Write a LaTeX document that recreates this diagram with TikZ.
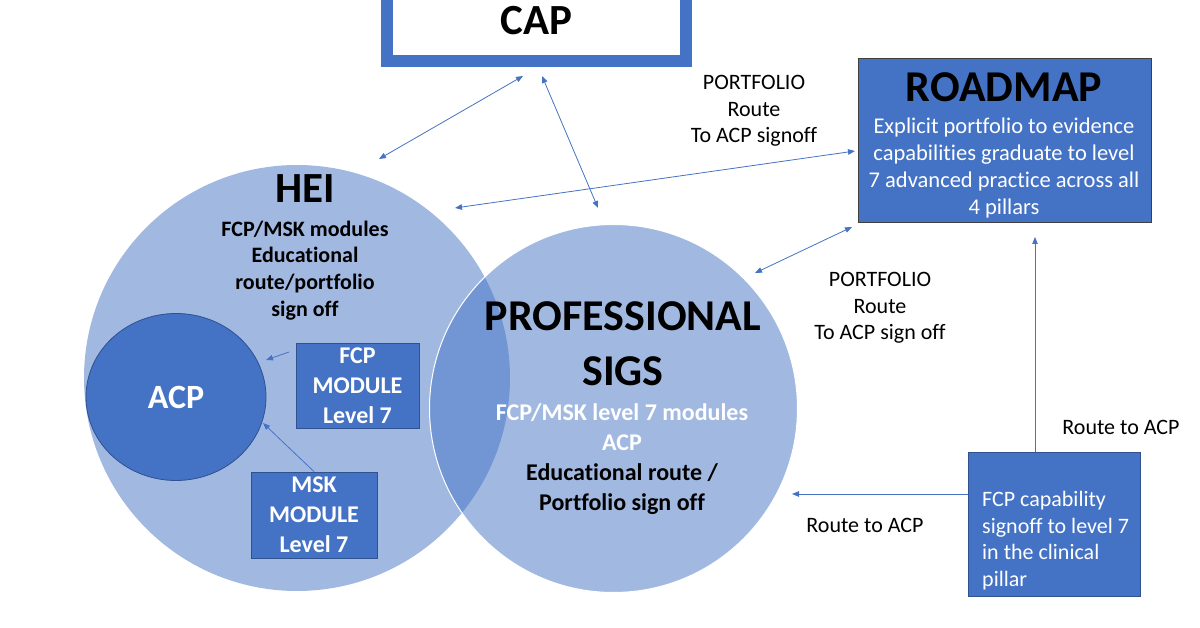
\documentclass[tikz,border=0pt]{standalone}
\usepackage{fontspec}
\setmainfont{Carlito}[Ligatures=NoCommon]
\usetikzlibrary{shapes.geometric,arrows.meta,positioning}
\definecolor{ppblue}{HTML}{4472C4}
\definecolor{ppedge}{HTML}{2F528F}

\begin{document}
\begin{tikzpicture}[%
    ,x=1pt,y=-1pt
    ,>={Triangle[length=7pt,width=5.5pt]}
    ,block/.style = {%
        ,draw=ppedge
        ,fill=ppblue
        ,line width=0.8pt
        ,inner sep=0pt
        ,align=center
        }
    ,ring/.style = {%
        ,circle
        ,fill=ppblue
        ,fill opacity=0.5
        ,inner sep=0pt
        }
    ,head/.style = {%
        ,anchor=base
        ,inner sep=0pt
        ,align=center
        ,font=\fontsize{43}{55}\selectfont\bfseries
        }
    ,lbl/.style = {%
        ,anchor=base
        ,inner sep=0pt
        ,align=center
        ,font=\fontsize{22}{26.5}\selectfont
        }
    ,bold/.style = {font=\fontsize{22}{27}\selectfont\bfseries}
    ,link/.style = {ppblue, line width=0.8pt}
    ]
\useasboundingbox (0,0) rectangle (1200,628);

% circles
\node (hei) [ring, minimum size=426pt] at (297,378) {};
\node (sigs) [ring, draw=white, line width=1pt, minimum size=368pt] at (613.5,408.5) {};
\node (acp) [ellipse, fill=ppblue, draw=ppedge, line width=0.8pt
    , minimum width=180pt, minimum height=167pt
    , text=white, font=\fontsize{34}{40}\selectfont\bfseries] at (176,397) {ACP};

% boxes
\node (cap) [draw=ppblue, line width=12pt, fill=white
    , minimum width=299pt, minimum height=81pt
    , font=\fontsize{43}{50}\selectfont\bfseries] at (536.5,20.5) {CAP};
\node (roadmap) [block, draw=black!75, minimum width=293pt, minimum height=164pt] at (1004.5,140) {};
\node (fcpm) [block, minimum width=123pt, minimum height=85pt
    , text=white, font=\fontsize{24}{30}\selectfont\bfseries] at (357.5,385.5) {FCP\\MODULE\\Level 7};
\node (mskm) [block, minimum width=126pt, minimum height=86pt
    , text=white, font=\fontsize{24}{30}\selectfont\bfseries] at (314,515) {MSK\\MODULE\\Level 7};
\node (fcpc) [block, minimum width=172pt, minimum height=144pt] at (1054,524) {};

% texts (base = last line)
\node (heititle) [head] at (305,203) {HEI};
\node (heitext) [lbl, bold] at (305,317) {FCP/MSK modules\\Educational\\route/portfolio\\sign off};
\node (sigstitle) [head, font=\fontsize{44}{55}\selectfont\bfseries] at (623,385) {PROFESSIONAL\\SIGS};
\node (sigstext) [lbl, font=\fontsize{24}{30}\selectfont\bfseries] at (622,510)
    {\textcolor{white}{FCP/MSK level 7 modules}\\\textcolor{white}{ACP}\\Educational route /\\Portfolio sign off};
\node (rmtitle) [head, font=\fontsize{44}{50}\selectfont\bfseries] at (1004,102) {ROADMAP};
\node (rmtext) [lbl, text=white, font=\fontsize{22.5}{27}\selectfont] at (1004,215)
    {Explicit portfolio to evidence\\capabilities graduate to level\\7 advanced practice across all\\4 pillars};
\node (fcpctext) [lbl, anchor=base west, align=left, text=white] at (982,586)
    {FCP capability\\signoff to level 7\\in the clinical\\pillar};
\node (pftop) [lbl] at (754,143) {PORTFOLIO\\Route\\To ACP signoff};
\node (pfmid) [lbl] at (880,340) {PORTFOLIO\\Route\\To ACP sign off};
\node (rtright) [lbl] at (1121,435) {Route to ACP};
\node (rtlow) [lbl] at (865,532) {Route to ACP};

% arrow ends
\coordinate (capA) at (523,76);
\coordinate (capB) at (542,76);
\coordinate (heiA) at (379,159);
\coordinate (heiB) at (455,208);
\coordinate (sigsA) at (598,208);
\coordinate (sigsB) at (755,273);
\coordinate (sigsC) at (792,494);
\coordinate (rmA) at (855,151);
\coordinate (rmB) at (852,227);
\coordinate (rmC) at (1035,237);
\coordinate (fcpA) at (289,352);
\coordinate (acpA) at (266,360);
\coordinate (acpB) at (263,423);

\draw[link, <->] (capA) -- (heiA);
\draw[link, <->] (capB) -- (sigsA);
\draw[link, <->] (rmA) -- (heiB);
\draw[link, <->] (rmB) -- (sigsB);
\draw[link, ->] (fcpA) -- (acpA);
\draw[link, ->] (mskm.north) -- (acpB);
\draw[link, ->] (sigsC -| fcpc.west) -- (sigsC);
\draw[link, ->] (rmC |- fcpc.north) -- (rmC);
\end{tikzpicture}
\end{document}
